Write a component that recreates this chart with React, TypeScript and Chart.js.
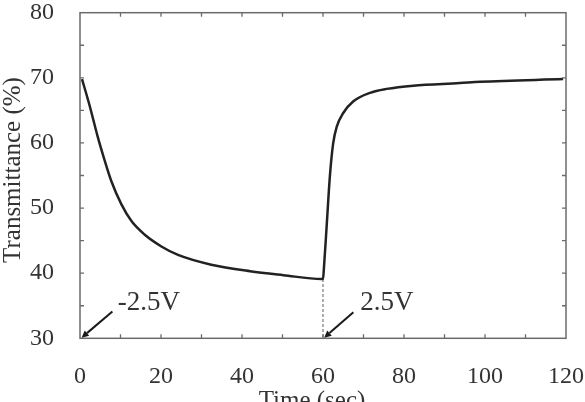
import React, { useEffect, useRef } from "react";
import { Chart, registerables } from "chart.js";

Chart.register(...registerables);

// Transmittance curve (time in s, transmittance in %)
const timeSec = [0.5, 2.3, 4.4, 6.1, 7.7, 10.2, 12.7, 16.0, 20.1, 24.2, 32.4, 42.0, 50.2, 59.7, 60.0, 60.2, 60.9, 61.7, 62.5, 63.4, 65.0, 67.5, 71.6, 75.7, 82.3, 93.8, 98.8, 119.3];
const transmittance = [69.8, 65.9, 60.9, 57.3, 54.2, 50.6, 48.0, 45.9, 44.1, 42.8, 41.3, 40.3, 39.7, 39.1, 39.1, 40.5, 47.2, 54.9, 59.9, 62.5, 64.6, 66.4, 67.7, 68.3, 68.8, 69.2, 69.4, 69.8];

// Dashed marker at the voltage switch
const switchX = [60, 60];
const switchY = [39.1, 30];

// Axis settings
const xMin = 0, xMax = 120, xStep = 20, xMinor = 10;
const yMin = 30, yMax = 80, yStep = 10, yMinor = 5;
const xTitle = "Time (sec)";
const yTitle = "Transmittance (%)";

// Annotations: label, text anchor (data), arrow tail (data), arrow tip (data)
const annLabels = ["-2.5V", "2.5V"];
const annTextX = [9.3, 69.2];
const annTextY = [34.3, 34.4];
const annTailX = [8.0, 67.5];
const annTailY = [34.1, 34.0];
const annTipX = [0.4, 60.3];
const annTipY = [30.1, 30.1];

const FONT = '"Liberation Serif", "DejaVu Serif", serif';

export default function App() {
  const ref = useRef<HTMLCanvasElement | null>(null);
  useEffect(() => {
    if (!ref.current) return;
    const overlay = {
      id: "overlay",
      afterDraw(chart: any) {
        const ctx = chart.ctx;
        const { left, right, top, bottom } = chart.chartArea;
        const xs = chart.scales.x;
        const ys = chart.scales.y;
        ctx.save();
        // frame
        ctx.strokeStyle = "#6b6b6b";
        ctx.lineWidth = 1.5;
        ctx.strokeRect(left, top, right - left, bottom - top);
        // inward ticks
        ctx.lineWidth = 1.3;
        ctx.beginPath();
        for (let v = xMin + xMinor; v < xMax; v += xMinor) {
          const p = xs.getPixelForValue(v);
          ctx.moveTo(p, bottom); ctx.lineTo(p, bottom - 4);
          ctx.moveTo(p, top); ctx.lineTo(p, top + 4);
        }
        for (let v = yMin + yMinor; v < yMax; v += yMinor) {
          const p = ys.getPixelForValue(v);
          ctx.moveTo(left, p); ctx.lineTo(left + 4, p);
          ctx.moveTo(right, p); ctx.lineTo(right - 4, p);
        }
        ctx.stroke();
        // arrows + labels
        ctx.strokeStyle = "#1a1a1a";
        ctx.fillStyle = "#1a1a1a";
        ctx.lineWidth = 2;
        for (let i = 0; i < annLabels.length; i++) {
          const x1 = xs.getPixelForValue(annTailX[i]);
          const y1 = ys.getPixelForValue(annTailY[i]);
          const x2 = xs.getPixelForValue(annTipX[i]);
          const y2 = ys.getPixelForValue(annTipY[i]);
          const ang = Math.atan2(y2 - y1, x2 - x1);
          const hl = 7, hw = 3.5;
          const bx = x2 - hl * Math.cos(ang), by = y2 - hl * Math.sin(ang);
          ctx.beginPath();
          ctx.moveTo(x1, y1); ctx.lineTo(bx, by);
          ctx.stroke();
          ctx.beginPath();
          ctx.moveTo(x2, y2);
          ctx.lineTo(bx + hw * Math.sin(ang), by - hw * Math.cos(ang));
          ctx.lineTo(bx - hw * Math.sin(ang), by + hw * Math.cos(ang));
          ctx.closePath();
          ctx.fill();
          ctx.fillStyle = "#333";
          ctx.font = `27px ${FONT}`;
          ctx.textAlign = "left";
          ctx.textBaseline = "alphabetic";
          ctx.fillText(annLabels[i], xs.getPixelForValue(annTextX[i]), ys.getPixelForValue(annTextY[i]));
          ctx.fillStyle = "#1a1a1a";
        }
        // axis titles
        ctx.fillStyle = "#333";
        ctx.font = `25px ${FONT}`;
        ctx.textAlign = "center";
        ctx.textBaseline = "alphabetic";
        ctx.fillText(xTitle, 312, 408);
        ctx.translate(20, 170);
        ctx.rotate(-Math.PI / 2);
        ctx.fillText(yTitle, 0, 0);
        ctx.restore();
      },
    };
    const chart = new Chart(ref.current, {
      type: "line",
      data: {
        datasets: [
          {
            data: timeSec.map((t, i) => ({ x: t, y: transmittance[i] })),
            borderColor: "#222",
            borderWidth: 2.5,
            pointRadius: 0,
            cubicInterpolationMode: "monotone",
            fill: false,
          },
          {
            data: switchX.map((t, i) => ({ x: t, y: switchY[i] })),
            borderColor: "#777",
            borderWidth: 1.2,
            borderDash: [3, 2],
            pointRadius: 0,
            fill: false,
          },
        ],
      },
      options: {
        animation: false,
        responsive: false,
        layout: { padding: { left: 0, right: 19, top: 12.7, bottom: 0 } },
        plugins: { legend: { display: false }, tooltip: { enabled: false } },
        scales: {
          x: {
            type: "linear",
            min: xMin,
            max: xMax,
            afterFit: (s: any) => { s.height = 63.7; s.paddingLeft = 0; s.paddingRight = 0; },
            grid: { display: false },
            border: { display: false },
            ticks: { stepSize: xStep, padding: 16, color: "#333", font: { family: FONT, size: 24 }, maxRotation: 0 },
          },
          y: {
            min: yMin,
            max: yMax,
            afterFit: (s: any) => { s.width = 80; s.paddingTop = 0; s.paddingBottom = 0; },
            grid: { display: false },
            border: { display: false },
            ticks: { stepSize: yStep, padding: 18, color: "#333", font: { family: FONT, size: 24 } },
          },
        },
      },
      plugins: [overlay],
    });
    return () => chart.destroy();
  }, []);
  return (
    <div style={{ position: "fixed", left: 0, top: 0, width: 585, height: 402, overflow: "hidden", background: "#fff" }}>
      <canvas ref={ref} width={585} height={402} style={{ display: "block" }} />
    </div>
  );
}
